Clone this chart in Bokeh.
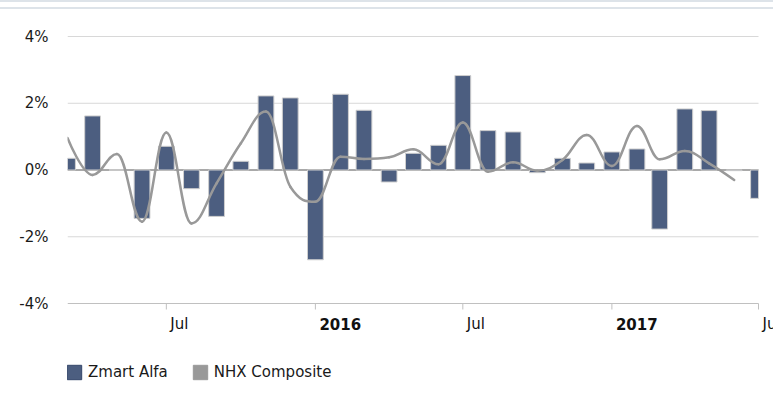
import numpy as np
import pandas as pd
from bokeh.plotting import figure
from bokeh.models import (FixedTicker, PrintfTickFormatter, Legend, LegendItem,
                          ColumnDataSource, Range1d)
from bokeh.core.properties import value
from bokeh.embed import file_html
from bokeh.resources import INLINE

# ---------------- data ----------------
bar_months = pd.date_range("2015-03-01", "2017-07-01", freq="MS")
zmart_alfa = [0.35, 1.62, 0.0, -1.45, 0.71, -0.56, -1.39, 0.26, 2.22, 2.16,
              -2.69, 2.27, 1.79, -0.36, 0.50, 0.74, 2.83, 1.18, 1.14, -0.08, 0.35, 0.21,
              0.54, 0.63, -1.77, 1.83, 1.78, -0.02, -0.85]
line_months = pd.date_range("2015-03-01", "2017-06-01", freq="MS")
nhx_composite = [0.96, -0.15, 0.48, -1.55, 1.12, -1.60, -0.40, 0.80, 1.75, -0.50,
                 -0.95, 0.40, 0.33, 0.38, 0.62, 0.17, 1.42, -0.05, 0.23, -0.02, 0.30, 1.05,
                 0.12, 1.32, 0.32, 0.57, 0.20, -0.30]
x_tick_dates = pd.to_datetime(["2015-07-01", "2016-01-01", "2016-07-01", "2017-01-01", "2017-07-01"])
x_tick_labels = ["Jul", "2016", "Jul", "2017", "Jul"]
x_tick_bold = [False, True, False, True, False]
y_ticks = [-4, -2, 0, 2, 4]
y_min, y_max = -4, 4

# ---------------- style / layout constants ----------------
FONT = "DejaVu Sans"
FSIZE = "15px"
BAR_COLOR = "#4c5e80"
LINE_COLOR = "#999999"
W, H = 773, 408
LEFT, TOP = 67, 10           # frame offsets in px
AXIS_RIGHT_PX = 758          # where the date axis ends
Y_TOP_PX, Y_BOT_PX = 36, 303 # where y_max / y_min sit

def ms(d):
    return pd.Timestamp(d).value / 1e6

bx = np.array([ms(d) for d in bar_months])
lx = np.array([ms(d) for d in line_months])
ly = np.array(nhx_composite, dtype=float)
x_start, x_stop = bx[0], bx[-1]

# ranges (frame extends past axis end / below axis for tick labels & legend)
x_per_px = (x_stop - x_start) / (AXIS_RIGHT_PX - LEFT)
y_per_px = (y_max - y_min) / (Y_BOT_PX - Y_TOP_PX)
x_range = Range1d(x_start, x_start + (W - LEFT) * x_per_px)
y_range = Range1d(y_max - (H - Y_TOP_PX) * y_per_px, y_max + (Y_TOP_PX - TOP) * y_per_px)

# spline control points (Highcharts-style smoothing)
n = len(lx)
smooth = 1.5
den = smooth + 1
lcx = lx.copy(); lcy = ly.copy(); rcx = lx.copy(); rcy = ly.copy()
for i in range(1, n - 1):
    px, py = lx[i], ly[i]
    ax, ay = lx[i - 1], ly[i - 1]
    nx, ny = lx[i + 1], ly[i + 1]
    lcx_, lcy_ = (smooth * px + ax) / den, (smooth * py + ay) / den
    rcx_, rcy_ = (smooth * px + nx) / den, (smooth * py + ny) / den
    corr = ((rcy_ - lcy_) * (rcx_ - px)) / (rcx_ - lcx_) + py - rcy_
    lcy_ += corr; rcy_ += corr
    if lcy_ > ay and lcy_ > py:
        lcy_ = max(ay, py); rcy_ = 2 * py - lcy_
    elif lcy_ < ay and lcy_ < py:
        lcy_ = min(ay, py); rcy_ = 2 * py - lcy_
    if rcy_ > ny and rcy_ > py:
        rcy_ = max(ny, py); lcy_ = 2 * py - rcy_
    elif rcy_ < ny and rcy_ < py:
        rcy_ = min(ny, py); lcy_ = 2 * py - rcy_
    lcx[i], lcy[i], rcx[i], rcy[i] = lcx_, lcy_, rcx_, rcy_

seg = ColumnDataSource(dict(
    x0=lx[:-1], y0=ly[:-1], x1=lx[1:], y1=ly[1:],
    cx0=rcx[:-1], cy0=rcy[:-1], cx1=lcx[1:], cy1=lcy[1:]))

# ---------------- figure ----------------
p = figure(width=W, height=H, output_backend="svg", toolbar_location=None,
           x_range=x_range, y_range=y_range,
           min_border_left=LEFT, min_border_right=0, min_border_top=TOP, min_border_bottom=0)
p.outline_line_color = None
p.background_fill_color = "white"
p.border_fill_color = None
p.styles = {
    "background-color": "white",
    "background-image": "linear-gradient(#dde3e9,#dde3e9), linear-gradient(#dde3e9,#dde3e9)",
    "background-size": "100% 2px, 100% 2px",
    "background-position": "0 0, 0 7px",
    "background-repeat": "no-repeat",
}
p.xaxis.visible = False
p.xgrid.grid_line_color = None
p.ygrid.grid_line_color = None

# y axis labels
p.yaxis.ticker = FixedTicker(ticks=y_ticks)
p.yaxis.formatter = PrintfTickFormatter(format="%d%%")
p.yaxis.axis_line_color = None
p.yaxis.major_tick_line_color = None
p.yaxis.major_tick_out = 0
p.yaxis.major_tick_in = 0
p.yaxis.minor_tick_line_color = None
p.yaxis.major_label_standoff = 19
p.yaxis.major_label_text_font = FONT
p.yaxis.major_label_text_font_size = FSIZE
p.yaxis.major_label_text_color = "#1a1a1a"

# horizontal grid lines, ending at the date-axis end
grid_y = [t for t in y_ticks if t not in (0, y_min)]
p.segment(x0=x_start, x1=x_stop, y0=grid_y, y1=grid_y, line_color="#d8d8d8", line_width=1)
# x axis line and ticks
p.segment(x0=x_start, x1=x_stop, y0=y_min, y1=y_min, line_color="#c0c0c0", line_width=1)
tick_x = [ms(d) for d in x_tick_dates]
p.segment(x0=tick_x, x1=tick_x, y0=y_min, y1=y_min - 6 * y_per_px, line_color="#c0c0c0", line_width=1)
# zero line
p.segment(x0=x_start, x1=x_stop, y0=0, y1=0, line_color="#8c8c8c", line_width=1.5)

# bars (clipped at the axis ends)
bar_w = 19.5 * 24 * 3600 * 1000
p.quad(left=np.maximum(bx - bar_w / 2, x_start), right=np.minimum(bx + bar_w / 2, x_stop),
       top=zmart_alfa, bottom=0, fill_color=BAR_COLOR, line_color="#cfcfcf", line_width=1)

# spline line
p.bezier(x0="x0", y0="y0", x1="x1", y1="y1", cx0="cx0", cy0="cy0", cx1="cx1", cy1="cy1",
         source=seg, line_color=LINE_COLOR, line_width=2.5, line_cap="round")

# x tick labels (left-aligned just right of ticks)
for bold in (False, True):
    xs = [x for x, b in zip(tick_x, x_tick_bold) if b == bold]
    ts = [t for t, b in zip(x_tick_labels, x_tick_bold) if b == bold]
    p.text(x=xs, y=[y_min] * len(xs), text=ts, x_offset=4, y_offset=20,
           text_align="left", text_baseline="middle", text_font=value(FONT),
           text_font_size=value(FSIZE), text_font_style=value("bold" if bold else "normal"),
           text_color="#111111")

# legend
nan = float("nan")
r1 = p.vbar(x=[x_start], top=[nan], width=bar_w, fill_color=BAR_COLOR, line_color="#34466a")
r2 = p.vbar(x=[x_start], top=[nan], width=bar_w, fill_color=LINE_COLOR, line_color=LINE_COLOR)
legend = Legend(items=[LegendItem(label="Zmart Alfa", renderers=[r1]),
                       LegendItem(label="NHX Composite", renderers=[r2])],
                location=(-2, 27), orientation="horizontal",
                glyph_width=18, glyph_height=18, label_standoff=5, spacing=23,
                padding=0, margin=0, border_line_color=None, background_fill_alpha=0,
                label_text_font=FONT, label_text_font_size=FSIZE,
                label_text_color="#1a1a1a")
p.add_layout(legend, "center")

open("out.html", "w").write(file_html(p, INLINE))
